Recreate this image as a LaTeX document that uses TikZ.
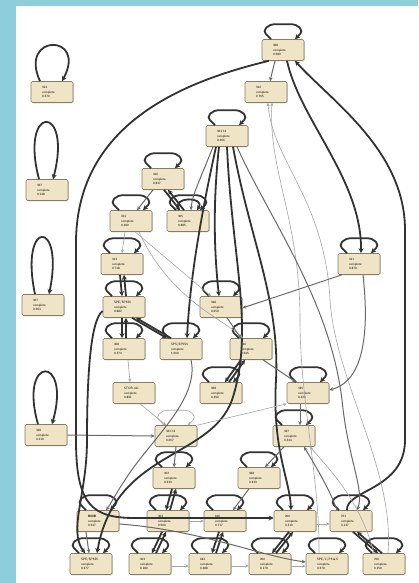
\documentclass[tikz,border=0pt]{standalone}
\usetikzlibrary{arrows.meta,shadows,calc}
\definecolor{bgblue}{RGB}{142,205,220}
\definecolor{boxfill}{RGB}{239,228,197}
\definecolor{boxdraw}{RGB}{135,125,100}
\definecolor{edk}{RGB}{50,50,50}
\definecolor{emd}{RGB}{105,105,105}
\definecolor{elt}{RGB}{165,165,165}
\tikzset{
 box/.style={draw=boxdraw, line width=0.6pt, fill=boxfill, rounded corners=1.5pt,
   minimum width=42pt, minimum height=21pt, inner sep=0pt, text width=20pt, align=left,
   font=\sffamily\fontsize{3.2}{4.4}\selectfont,
   drop shadow={shadow xshift=0.8pt, shadow yshift=-0.8pt, opacity=0.35}},
 ek/.style={-{Stealth[length=5pt,width=5pt]}, draw=edk, line width=1.8pt},
 em/.style={-{Stealth[length=4pt,width=3.6pt]}, draw=emd, line width=1pt},
 el/.style={-{Stealth[length=3.5pt,width=3pt]}, draw=elt, line width=0.6pt},
}
\newcommand\lpk[2][ek]{\draw[#1,rounded corners=4pt] ([xshift=-12pt]#2.north) -- ++(-8,-8) -- ++(7,-7) -- ++(26,0) -- ++(7,7) -- ([xshift=12pt]#2.north);}
\begin{document}
\begin{tikzpicture}[x=1pt,y=-1pt]
\fill[bgblue] (0,0) rectangle (418,583);
\fill[white] (16,6) rectangle (418,583);
\useasboundingbox (0,0) rectangle (418,583);
% nodes
\node[box] (n328) at (283,50) {328\\complete\\0.289};
\node[box] (nL1) at (52,92) {313\\complete\\0.270};
\node[box] (n312) at (266,92) {312\\complete\\0.765};
\node[box] (n321) at (227,136) {321'13\\complete\\0.266};
\node[box] (nL2) at (47,190) {327\\complete\\0.148};
\node[box] (n316) at (163,179) {316\\complete\\0.837};
\node[box] (n314) at (131,221) {314\\complete\\0.180};
\node[box] (n305) at (188,221) {305\\complete\\0.885};
\node[box] (n313) at (122,264) {313\\complete\\0.718};
\node[box] (n311) at (359,264) {311\\complete\\0.879};
\node[box] (nL3) at (43,305) {307\\complete\\0.263};
\node[box] (nSPE) at (124,307) {SPE/SP5S5\\complete\\0.882};
\node[box] (n318) at (221,307) {318\\complete\\0.659};
\node[box] (n308) at (124,349) {308\\complete\\0.374};
\node[box] (nSPS) at (181,349) {SPS/SP5S5\\complete\\1.000};
\node[box] (n316b) at (251,349) {316\\complete\\0.245};
\node[box] (nSTOR) at (134,393) {STOR-4LI\\complete\\0.891};
\node[box] (n328b) at (221,393) {328\\complete\\0.390};
\node[box] (n335) at (308,393) {335\\complete\\0.420};
\node[box] (nL4) at (46,435) {318\\complete\\0.210};
\node[box] (n321b) at (176,436) {321'13\\complete\\0.667};
\node[box] (n327b) at (294,436) {327\\complete\\0.344};
\node[box] (nA) at (174,478) {352\\complete\\0.333};
\node[box] (nB) at (259,478) {328\\complete\\0.333};
\node[box] (r11) at (98,521) {\textbf{B00B}\\complete\\0.247};
\node[box] (r12) at (168,521) {303\\complete\\0.500};
\node[box] (r13) at (225,521) {166\\complete\\0.717};
\node[box] (r14) at (295,521) {200\\complete\\0.310};
\node[box] (r15) at (351,521) {701\\complete\\0.137};
\node[box] (r21) at (91,564) {SPE/SP5S5\\complete\\0.377};
\node[box] (r22) at (150,564) {303\\complete\\0.180};
\node[box] (r23) at (210,564) {183\\complete\\0.488};
\node[box] (r24) at (270,564) {200\\complete\\0.179};
\node[box] (r25) at (327,564) {SPE/C/P5\,\&\,S\\complete\\0.270};
\node[box] (r26) at (384,564) {700\\complete\\0.159};
% self loops
\lpk{n328}\lpk{n321}\lpk{n316}\lpk{n314}\lpk{n305}
\draw[ek] ([xshift=-9pt]n305.north) .. controls +(-9,-14) and +(9,-14) .. ([xshift=9pt]n305.north);
\lpk{n313}\lpk{n311}\lpk{nSPE}\lpk{n318}\lpk{n308}\lpk{nSPS}\lpk{n316b}
\lpk{n328b}\lpk{n335}\lpk[el]{n321b}\lpk{n327b}\lpk{nA}\lpk{nB}
\lpk{r11}\lpk{r12}\lpk{r13}\lpk{r14}\lpk{r15}
\lpk{r21}\lpk{r22}\lpk{r23}\lpk{r24}\lpk{r25}\lpk{r26}
\draw[ek] ([xshift=-12pt]nL1.north) .. controls +(-22,-48) and +(26,-48) .. ([xshift=10pt]nL1.north);
\draw[ek] ([xshift=-8pt]nL2.north) .. controls +(-20,-76) and +(20,-76) .. ([xshift=6pt]nL2.north);
\draw[ek] ([xshift=-8pt]nL3.north) .. controls +(-16,-76) and +(16,-76) .. ([xshift=6pt]nL3.north);
\draw[ek] ([xshift=-8pt]nL4.north) .. controls +(-20,-70) and +(20,-70) .. ([xshift=6pt]nL4.north);
% edges
\draw[em] ([xshift=-8pt]n328.south) -- ([xshift=4pt]n312.north);
\draw[ek] ([xshift=-14pt]n328.south) .. controls (190,80) and (78,120) .. (76,240) -- (76,440) .. controls (76,505) and (92,518) .. (135,518) -- ([yshift=3pt]r14.west);
\draw[ek] ([xshift=-4pt]r15.north) .. controls (345,490) and (405,490) .. (405,440) -- (405,230) .. controls (405,150) and (330,100) .. ([xshift=12pt]n328.south);
\draw[ek] ([xshift=4pt]n328.south) .. controls (300,120) and (362,180) .. ([xshift=2pt]n311.north);
\draw[el] ([xshift=4pt]r26.north) .. controls (395,470) and (335,380) .. (330,300) .. controls (325,200) and (272,160) .. ([xshift=2pt]n312.south);
\draw[el] ([xshift=-8pt]r25.north) .. controls (320,480) and (300,400) .. (300,320) .. controls (300,220) and (268,170) .. ([xshift=6pt]n312.south);
\draw[em] ([xshift=-14pt]n321.south) .. controls (200,180) and (192,195) .. ([xshift=3pt]n305.north);
\draw[ek] ([xshift=-8pt]n321.south) .. controls (212,210) and (215,260) .. ([xshift=-2pt]n318.north);
\draw[ek] ([xshift=-11pt]n321.south) .. controls (200,220) and (190,280) .. ([xshift=6pt]nSPS.north);
\draw[ek] (n321.south) .. controls (232,260) and (255,330) .. (232,400) .. controls (210,460) and (115,450) .. ([xshift=6pt]r21.north);
\draw[ek] ([xshift=6pt]n321.south) .. controls (250,240) and (280,300) .. (276,380) .. controls (272,450) and (290,480) .. ([xshift=-4pt]r14.north);
\draw[em] ([xshift=10pt]n321.south) .. controls (270,220) and (330,300) .. (342,400) .. controls (348,460) and (365,490) .. ([xshift=6pt]r15.north);
\draw[em] ([xshift=-10pt]n316.south) -- ([xshift=6pt]n314.north);
\draw[ek] ([xshift=1pt]n316.south) -- ([xshift=-8pt]n305.north);
\draw[ek] ([xshift=-4pt]n305.north) -- ([xshift=5pt]n316.south);
\draw[el] ([xshift=-6pt]n314.south) -- (n313.north);
\draw[el] ([xshift=4pt]n314.south) -- ([xshift=-10pt]n318.north);
\draw[el] ([xshift=8pt]n314.south) .. controls (170,300) and (225,320) .. ([xshift=-8pt]n316b.north);
\draw[ek] ([xshift=-2pt]n313.south) -- ([xshift=-2pt]nSPE.north);
\draw[ek] ([xshift=2pt]nSPE.north) -- ([xshift=2pt]n313.south);
\draw[ek] ([xshift=-2pt]nSPE.south) -- ([xshift=-2pt]n308.north);
\draw[ek] ([xshift=2pt]n308.north) -- ([xshift=2pt]nSPE.south);
\draw[ek] ([xshift=8pt]nSPE.south) -- ([xshift=-14pt]nSPS.north);
\draw[ek] ([xshift=-10pt]nSPS.north) -- ([xshift=12pt]nSPE.south);
\draw[em] ([xshift=-17pt]n311.south) -- ([yshift=-1pt]n318.east);
\draw[em] ([xshift=6pt]n318.south) -- ([xshift=-10pt]n316b.north);
\draw[ek] ([xshift=-10pt]n316b.south) -- ([xshift=4pt]n328b.north);
\draw[ek] ([xshift=8pt]n328b.north) -- ([xshift=-6pt]n316b.south);
\draw[em] ([xshift=12pt]n316b.south) -- ([xshift=-12pt]n335.north);
\draw[em] ([xshift=4pt]n311.south) .. controls (368,320) and (368,380) .. ([yshift=3pt]n335.east);
\draw[el] ([xshift=4pt]n308.south) -- ([xshift=-4pt]nSTOR.north);
\draw[el] ([xshift=6pt]nSTOR.south) -- ([xshift=-10pt]n321b.north);
\draw[em] (nL4.east) -- (n321b.west);
\draw[em] ([xshift=-8pt]n335.south) -- ([xshift=6pt]n327b.north);
\draw[em] (n321b.south) -- (nA.north);
\draw[em] ([xshift=-10pt]n327b.south) -- ([xshift=6pt]nB.north);
\draw[ek] ([xshift=-2pt]nA.south) -- ([xshift=-2pt]r12.north);
\draw[ek] ([xshift=2pt]r12.north) -- ([xshift=2pt]nA.south);
\draw[em] ([xshift=-10pt]nB.south) -- ([xshift=8pt]r13.north);
\draw[ek] ([xshift=-6pt]r12.south) -- ([xshift=2pt]r22.north);
\draw[ek] ([xshift=6pt]r22.north) -- ([xshift=-2pt]r12.south);
\draw[ek] ([xshift=-6pt]r13.south) -- ([xshift=2pt]r23.north);
\draw[ek] ([xshift=6pt]r23.north) -- ([xshift=-2pt]r13.south);
\draw[ek] ([xshift=-6pt]r14.south) -- ([xshift=2pt]r24.north);
\draw[ek] ([xshift=6pt]r24.north) -- ([xshift=-2pt]r14.south);
\draw[ek] ([xshift=2pt]r15.south) -- ([xshift=-6pt]r26.north);
\draw[ek] ([xshift=-2pt]r26.north) -- ([xshift=6pt]r15.south);
\draw[em] ([xshift=-12pt]r11.south) -- ([xshift=-2pt]r21.north);
\draw[em] ([yshift=-3pt]r11.east) .. controls (200,530) and (260,556) .. ([yshift=2pt]r25.west);
\draw[el] ([yshift=-2pt]r22.east) -- ([yshift=-2pt]r23.west);
\draw[el] ([yshift=-2pt]r23.east) -- ([yshift=-2pt]r24.west);
\draw[el] ([yshift=-2pt]r24.east) -- ([yshift=-2pt]r25.west);
\draw[el] (r12.east) -- (r13.west);
\draw[el] ([yshift=-3pt]r14.east) -- ([yshift=-3pt]r15.west);
\draw[ek] ([yshift=-4pt]nSPE.west) .. controls (90,320) and (87,380) .. (87,440) .. controls (87,495) and (68,530) .. ([xshift=-6pt]r21.north);
\draw[el] (n321b.north east) -- (n335.south west);
\draw[em] ([xshift=-14pt]r15.north) .. controls (330,490) and (315,465) .. ([xshift=10pt]n327b.south);
\draw[el] ([xshift=-10pt]r26.north) .. controls (360,500) and (330,470) .. ([xshift=16pt]n327b.south);
\draw[em] ([xshift=10pt]nSPS.south) .. controls (200,400) and (150,440) .. (125,480) .. controls (115,495) and (110,505) .. ([xshift=8pt]r11.north);
\end{tikzpicture}
\end{document}
